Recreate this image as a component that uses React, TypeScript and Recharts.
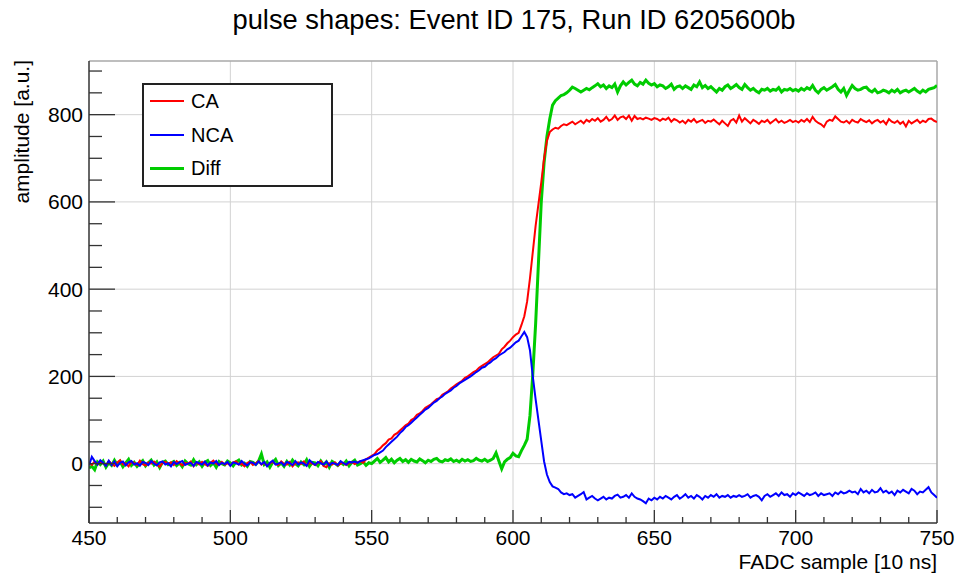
import { LineChart, Line, XAxis, YAxis, ReferenceLine, Legend } from 'recharts'

// FADC sample index on the x axis
const SAMPLES: number[] = Array.from({ length: 301 }, (_, i) => 450 + i)

// amplitudes [a.u.], one value per sample 450..750
const CA = [
  2, -3, 5, -2, 4, 1, -4, 6, 0, -5,
  3, 8, -2, 1, -6, 4, 2, -3, 7, -1,
  -4, 3, 0, 5, -2, -7, 2, 4, -1, 3,
  -3, 6, 1, -4, 2, 0, 5, -6, 3, -2,
  4, -1, -5, 2, 7, 0, -3, 4, -2, 1,
  -4, 3, 5, -2, 0, -6, 2, 4, -3, 1,
  6, -2, 3, -5, 1, 4, -1, -3, 5, 0,
  -2, 4, -6, 1, 3, -1, 5, -4, 2, 0,
  -3, 2, 6, -5, -8, 1, -2, 3, -4, 0,
  2, -3, 1, 4, -1, 3, 6, 2, 10, 14,
  18, 22, 30, 35, 42, 47, 55, 58, 66, 70,
  76, 82, 88, 92, 100, 104, 112, 115, 121, 128,
  132, 136, 142, 148, 150, 158, 162, 166, 172, 177,
  182, 186, 190, 197, 200, 205, 210, 213, 220, 224,
  228, 232, 238, 244, 248, 252, 262, 268, 276, 282,
  290, 296, 300, 318, 338, 372, 425, 485, 545, 595,
  645, 700, 740, 760, 766, 770, 768, 774, 778, 776,
  780, 784, 778, 782, 786, 780, 788, 784, 790, 786,
  792, 784, 788, 795, 786, 790, 798, 788, 794, 796,
  790, 798, 786, 797, 790, 792, 789, 793, 791, 788,
  792, 790, 786, 791, 788, 793, 784, 790, 787, 782,
  786, 780, 788, 784, 790, 782, 785, 788, 781, 786,
  784, 789, 783, 778, 786, 780, 774, 786, 790, 782,
  798, 784, 792, 786, 780, 788, 784, 779, 786, 783,
  788, 780, 785, 790, 782, 786, 781, 784, 788, 783,
  786, 782, 788, 784, 790, 783, 795, 786, 781, 778,
  772, 784, 788, 786, 796, 790, 784, 782, 786, 780,
  788, 784, 782, 790, 786, 783, 787, 780, 785, 788,
  782, 786, 778, 790, 784, 781, 786, 779, 784, 773,
  786, 780, 784, 788, 781, 786, 783, 790, 791, 786,
  783,
]

const NCA = [
  -4, 16, 6, -2, 8, 2, -5, 7, -3, 5,
  -6, 2, 5, -4, 3, 6, -2, 1, -5, 4,
  2, -3, 6, 0, -4, 3, 5, -2, 1, -6,
  4, -1, 3, 6, -3, 0, 2, -5, 4, 1,
  -2, 5, -4, 3, 0, 6, -3, 2, -1, 4,
  -5, 3, 1, -2, 6, 0, -4, 3, 2, -3,
  5, -1, 4, -6, 2, 7, -2, 0, 3, -4,
  4, 1, -3, 6, -2, 3, 0, -5, 8, 2,
  -3, 4, 1, -2, 5, -4, 2, 0, -3, 6,
  1, -2, 4, 3, 5, 2, 6, 8, 10, 12,
  16, 20, 22, 26, 30, 38, 44, 50, 56, 62,
  70, 76, 84, 88, 94, 100, 106, 112, 118, 124,
  128, 134, 140, 144, 150, 154, 160, 164, 168, 174,
  178, 184, 188, 192, 196, 200, 205, 210, 214, 220,
  222, 228, 232, 238, 242, 248, 252, 256, 262, 266,
  272, 278, 282, 292, 302, 290, 260, 200, 148, 100,
  52, 5, -25, -42, -52, -55, -58, -66, -70, -68,
  -72, -70, -78, -74, -70, -65, -82, -78, -74, -80,
  -84, -80, -76, -82, -78, -80, -74, -71, -78, -76,
  -72, -78, -68, -76, -80, -82, -86, -91, -80, -84,
  -78, -82, -76, -80, -74, -78, -82, -76, -72, -80,
  -76, -70, -78, -74, -80, -72, -76, -82, -74, -78,
  -72, -76, -70, -78, -74, -76, -72, -78, -74, -76,
  -72, -76, -74, -70, -78, -74, -72, -76, -84, -74,
  -70, -76, -72, -68, -74, -66, -72, -70, -76, -68,
  -72, -66, -70, -74, -68, -72, -70, -66, -74, -68,
  -72, -70, -68, -74, -66, -70, -64, -68, -66, -62,
  -66, -64, -70, -58, -66, -62, -68, -60, -66, -64,
  -56, -66, -62, -68, -64, -72, -62, -66, -60, -64,
  -68, -58, -62, -70, -64, -66, -60, -54, -66, -72,
  -78,
]

const DIFF = [
  -10, -6, -14, 4, -2, 6, -8, 2, -4, 8,
  -3, 5, -7, 2, 10, -4, 3, -6, 1, 7,
  -5, 2, 8, -3, 4, -9, 3, 6, -2, 1,
  5, -4, 2, -7, 6, 0, -3, 9, -2, 4,
  -6, 3, 7, -4, 2, -8, 5, 0, -3, 6,
  2, -5, 4, 8, -3, 1, -6, 5, 3, -2,
  6, 22, -2, 4, -8, 3, 10, -4, 2, -6,
  5, -3, 8, 0, -5, 4, -2, 9, -6, 3,
  2, -5, 6, -3, 4, -8, 5, 1, -4, 3,
  -2, 6, -5, 3, 8, -3, 0, 4, -4, 2,
  0, 6, 12, 3, 8, 14, 4, 10, 2, 8,
  12, 5, 9, 3, 10, 6, 4, 11, 7, 2,
  8, 5, 10, 12, 6, 4, 9, 7, 11, 5,
  8, 4, 10, 6, 9, 5, 7, 12, 8, 6,
  10, 5, 8, 12, 25, 6, -12, 4, 10, 14,
  24, 18, 16, 30, 42, 56, 110, 205, 320, 460,
  600, 690, 750, 790, 822, 832, 838, 844, 846, 850,
  856, 863, 860, 856, 852, 856, 860, 857, 862, 866,
  871, 864, 868, 860, 866, 862, 870, 852, 866, 875,
  868, 874, 879, 870, 866, 874, 870, 879, 872, 868,
  871, 864, 868, 866, 860, 864, 870, 858, 864, 866,
  860, 866, 862, 858, 868, 864, 875, 862, 867, 860,
  864, 858, 852, 860, 856, 864, 868, 860, 864, 869,
  862, 858, 869, 862, 856, 860, 854, 850, 858, 856,
  860, 854, 858, 856, 862, 852, 858, 856, 860, 855,
  858, 854, 860, 856, 862, 858, 867, 856, 850, 858,
  862, 856, 860, 864, 869, 858, 852, 860, 844, 856,
  867, 860, 856, 858, 862, 863, 856, 852, 858, 850,
  852, 856, 854, 850, 856, 852, 858, 850, 854, 856,
  852, 856, 860, 854, 850, 856, 852, 858, 860, 862,
  867,
]

const X_TICKS = [
  450, 460, 470, 480, 490, 500, 510, 520, 530, 540, 550, 560, 570, 580, 590, 600,
  610, 620, 630, 640, 650, 660, 670, 680, 690, 700, 710, 720, 730, 740, 750,
]
const Y_TICKS = [-100, -50, 0, 50, 100, 150, 200, 250, 300, 350, 400, 450, 500, 550, 600, 650, 700, 750, 800, 850, 900]
const X_GRID = [500, 550, 600, 650, 700]
const Y_GRID = [0, 200, 400, 600, 800]
const X_DOMAIN = [450, 750]
const Y_DOMAIN = [-136, 923]

const SERIES = [
  { key: 'ca', name: 'CA', color: '#ff0000', width: 2 },
  { key: 'nca', name: 'NCA', color: '#0000ff', width: 2 },
  { key: 'diff', name: 'Diff', color: '#00cc00', width: 3 },
]

const FONT = '"Liberation Sans", Arial, Helvetica, sans-serif'
const AXIS = '#333333'

const data = SAMPLES.map((s, i) => ({ sample: s, ca: CA[i], nca: NCA[i], diff: DIFF[i] }))

function XTick(props: any) {
  const { x, y, payload } = props
  const v = payload.value
  const major = v % 50 === 0
  return (
    <g>
      <line x1={x} x2={x} y1={y} y2={y - (major ? 13 : 6)} stroke={AXIS} strokeWidth={1.3} />
      {major && (
        <text x={x} y={y + 22} textAnchor="middle" fontSize={21} fontFamily={FONT} fill="#000">
          {v}
        </text>
      )}
    </g>
  )
}

function YTick(props: any) {
  const { x, y, payload } = props
  const v = payload.value
  const major = v % 200 === 0
  return (
    <g>
      <line x1={x} x2={x + (major ? 26 : 13)} y1={y} y2={y} stroke={AXIS} strokeWidth={1.3} />
      {major && (
        <text x={x - 6} y={y} dy="0.36em" textAnchor="end" fontSize={21} fontFamily={FONT} fill="#000">
          {v}
        </text>
      )}
    </g>
  )
}

function LegendBox() {
  return (
    <div
      style={{
        width: 191,
        height: 104,
        boxSizing: 'border-box',
        border: '2px solid #222',
        background: '#fff',
        position: 'relative',
        fontFamily: FONT,
        fontSize: 20,
      }}
    >
      {SERIES.map((s, i) => (
        <div key={s.key} style={{ position: 'absolute', left: 0, top: 16 + i * 33.5 - 12, height: 24, width: 185 }}>
          <div
            style={{
              position: 'absolute',
              left: 6,
              top: 12 - s.width / 2,
              width: 34,
              height: s.width,
              background: s.color,
            }}
          />
          <div style={{ position: 'absolute', left: 47, top: 0, lineHeight: '24px', color: '#000' }}>{s.name}</div>
        </div>
      ))}
    </div>
  )
}

export default function App() {
  return (
    <div style={{ position: 'absolute', left: 0, top: 0, width: 960, height: 576, background: '#fff', fontFamily: FONT }}>
      <div
        style={{
          position: 'absolute',
          left: 214,
          top: 5,
          width: 600,
          height: 30,
          lineHeight: '30px',
          textAlign: 'center',
          fontSize: 27.3,
          color: '#000',
          whiteSpace: 'nowrap',
        }}
      >
        pulse shapes: Event ID 175, Run ID 6205600b
      </div>
      <LineChart width={960} height={576} data={data} margin={{ top: 61, right: 23, bottom: 0, left: 0 }}>
        {X_GRID.map((v) => (
          <ReferenceLine key={'gx' + v} x={v} stroke="#d2d2d2" strokeWidth={1} />
        ))}
        {Y_GRID.map((v) => (
          <ReferenceLine key={'gy' + v} y={v} stroke="#d2d2d2" strokeWidth={1} />
        ))}
        <ReferenceLine x={750} stroke="#a8a8a8" strokeWidth={1.5} />
        <ReferenceLine y={Y_DOMAIN[1]} stroke="#a8a8a8" strokeWidth={1.5} />
        <XAxis
          dataKey="sample"
          type="number"
          domain={X_DOMAIN}
          ticks={X_TICKS}
          interval={0}
          height={53}
          tickSize={0}
          tickMargin={0}
          tickLine={false}
          axisLine={{ stroke: AXIS, strokeWidth: 1.5 }}
          tick={<XTick />}
          allowDataOverflow
        />
        <YAxis
          type="number"
          domain={Y_DOMAIN}
          ticks={Y_TICKS}
          interval={0}
          width={89}
          tickSize={0}
          tickMargin={0}
          tickLine={false}
          axisLine={{ stroke: AXIS, strokeWidth: 1.5 }}
          tick={<YTick />}
          allowDataOverflow
        />
        <Legend
          layout="vertical"
          align="center"
          verticalAlign="middle"
          content={() => <LegendBox />}
          wrapperStyle={{ left: 142, top: 83, width: 191, height: 104 }}
        />
        <Line dataKey="diff" name="Diff" stroke="#00cc00" strokeWidth={3} dot={false} isAnimationActive={false} />
        <Line dataKey="ca" name="CA" stroke="#ff0000" strokeWidth={2} dot={false} isAnimationActive={false} />
        <Line dataKey="nca" name="NCA" stroke="#0000ff" strokeWidth={2} dot={false} isAnimationActive={false} />
      </LineChart>
      <div
        style={{
          position: 'absolute',
          left: -78,
          top: 148,
          width: 200,
          height: 24,
          lineHeight: '24px',
          textAlign: 'right',
          fontSize: 21,
          color: '#000',
          transform: 'rotate(-90deg)',
          whiteSpace: 'nowrap',
        }}
      >
        amplitude [a.u.]
      </div>
      <div
        style={{
          position: 'absolute',
          left: 637,
          top: 550,
          width: 300,
          height: 24,
          lineHeight: '24px',
          textAlign: 'right',
          fontSize: 21,
          color: '#000',
          whiteSpace: 'nowrap',
        }}
      >
        FADC sample [10 ns]
      </div>
    </div>
  )
}
